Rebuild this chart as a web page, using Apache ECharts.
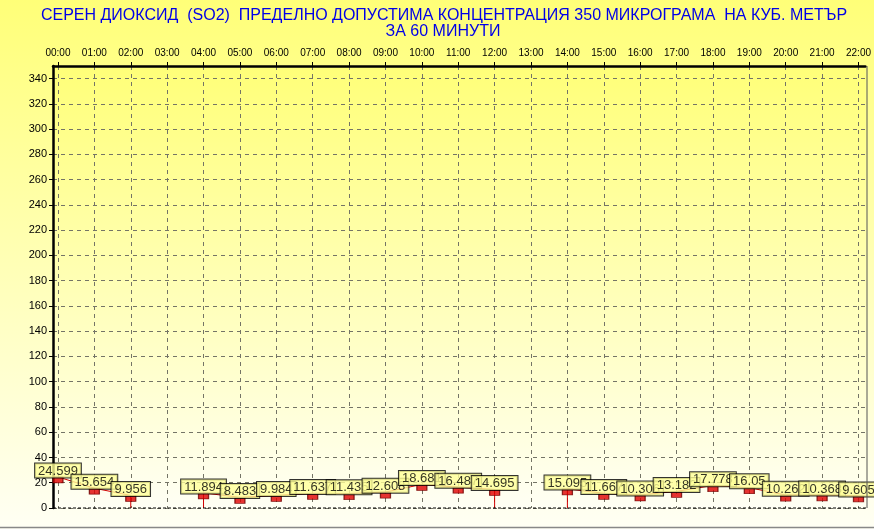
<!DOCTYPE html>
<html><head><meta charset="utf-8">
<script src="https://cdn.jsdelivr.net/npm/echarts@6/dist/echarts.min.js"></script>
<style>html,body{margin:0;padding:0;}#c{width:874px;height:529px;}</style>
</head><body><div id="c"></div>
<script>
var titleLine1 = 'СЕРЕН ДИОКСИД  (SO2)  ПРЕДЕЛНО ДОПУСТИМА КОНЦЕНТРАЦИЯ 350 МИКРОГРАМА  НА КУБ. МЕТЪР';
var titleLine2 = 'ЗА 60 МИНУТИ';
var hourLabels = ['00:00','01:00','02:00','03:00','04:00','05:00','06:00','07:00','08:00','09:00','10:00','11:00','12:00','13:00','14:00','15:00','16:00','17:00','18:00','19:00','20:00','21:00','22:00'];
var so2Values = [24.599,15.654,9.956,null,11.894,8.483,9.984,11.637,11.435,12.608,18.681,16.487,14.695,null,15.095,11.667,10.306,13.182,17.778,16.05,10.262,10.368,9.605];
var yTicks = [0,20,40,60,80,100,120,140,160,180,200,220,240,260,280,300,320,340];

var hours = hourLabels.map(function(_, i){ return i; });
var points = [];
var lineData = [];
so2Values.forEach(function(v, i){
  if (v === null) { lineData.push('-'); return; }
  points.push([i, v]);
  if (i > 0 && so2Values[i-1] === null) lineData.push([i, 0]);
  lineData.push([i, v]);
  if (i < so2Values.length - 1 && so2Values[i+1] === null) lineData.push([i, 0]);
});

var chart = echarts.init(document.getElementById('c'));
var font = 'Arial, "Liberation Sans", sans-serif';
var titleStyle = {fill:'#0000E8', fontSize: 16, fontFamily: font, align: 'center', verticalAlign: 'middle'};
chart.setOption({
  animation: false,
  backgroundColor: new echarts.graphic.LinearGradient(0,0,0,1,[{offset:0,color:'#FFFF78'},{offset:1,color:'#FFFFF4'}]),
  grid: {
    left: 53, right: 7, top: 66, bottom: 21,
    show: true,
    backgroundColor: new echarts.graphic.LinearGradient(0,0,0,1,[{offset:0,color:'#FFFF78'},{offset:1,color:'#FFFFF4'}]),
    borderWidth: 0
  },
  xAxis: {
    type: 'value', position: 'top', min: -0.137, max: 22.19,
    axisLine: {show: true, onZero: false, lineStyle: {color:'#000', width: 2.5}},
    axisTick: {show: true, length: 4, customValues: hours, lineStyle: {color:'#000'}},
    axisLabel: {customValues: hours, formatter: function(v){ return hourLabels[Math.round(v)]; }, color:'#000', fontSize: 10, fontFamily: font, margin: 8},
    splitLine: {show: true, lineStyle: {color:'#747466', type: [4,4], width: 1}}
  },
  yAxis: {
    type: 'value', min: 0, max: 350,
    axisLine: {show: true, onZero: false, lineStyle: {color:'#000', width: 2.5}},
    axisTick: {show: true, length: 4, customValues: yTicks, lineStyle: {color:'#000'}},
    axisLabel: {customValues: yTicks, color:'#000', fontSize: 11, fontFamily: font, margin: 6},
    splitLine: {show: true, lineStyle: {color:'#747466', type: [4,4], width: 1}}
  },
  series: [
    {
      type: 'line', data: lineData, showSymbol: false, connectNulls: false,
      lineStyle: {color:'#D00000', width: 1}, z: 2, silent: true
    },
    {
      type: 'scatter', data: points, symbol: 'rect', symbolSize: [10, 6], symbolOffset: [0, 3],
      itemStyle: {color:'#E00000', borderColor:'#700000', borderWidth: 1},
      z: 3,
      label: {
        show: true, position: 'top', distance: -1,
        formatter: function(p){ return String(p.value[1]); },
        color:'#000', fontSize: 13, fontFamily: font,
        backgroundColor:'#FFFF99', borderColor:'#000', borderWidth: 1, padding: [1,3,0,3]
      },
      labelLayout: {hideOverlap: false}
    }
  ],
  graphic: [
    {type:'text', x: 444, y: 16, style: Object.assign({text: titleLine1}, titleStyle), z: 6},
    {type:'text', x: 443, y: 32, style: Object.assign({text: titleLine2}, titleStyle), z: 6},
    {type:'line', shape:{x1:53, y1:508, x2:867, y2:508}, style:{stroke:'#000', lineWidth:1, lineDash:[3,2]}, z: 5},
    {type:'line', shape:{x1:867, y1:66, x2:867, y2:508}, style:{stroke:'#555', lineWidth:1}, z: 5},
    {type:'line', shape:{x1:0, y1:527.5, x2:874, y2:527.5}, style:{stroke:'#888', lineWidth:1.5}, z: 5}
  ]
});
</script>
</body></html>
